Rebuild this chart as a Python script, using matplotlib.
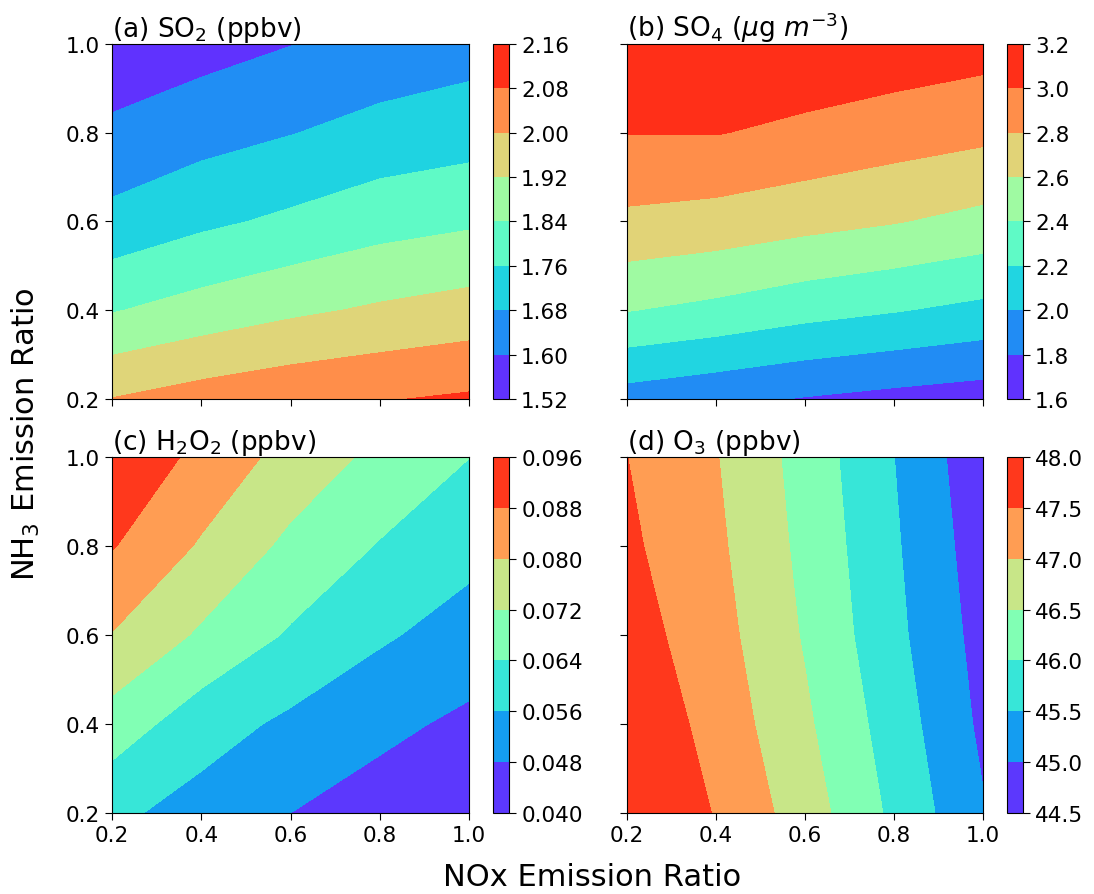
import numpy as np
import matplotlib
matplotlib.use('Agg')
import matplotlib.pyplot as plt

# --- grid (emission ratios) ---
nox = [0.2, 0.4, 0.6, 0.8, 1.0]
nh3 = [0.2, 0.4, 0.6, 0.8, 1.0]

# rows: NH3 = 0.2 ... 1.0, columns: NOx = 0.2 ... 1.0
so2 = [
    [2.002, 2.035, 2.059, 2.075, 2.091],
    [1.835, 1.872, 1.905, 1.931, 1.952],
    [1.703, 1.744, 1.775, 1.808, 1.828],
    [1.618, 1.650, 1.677, 1.708, 1.725],
    [1.538, 1.570, 1.598, 1.624, 1.647],
]
so4 = [
    [1.911, 1.848, 1.788, 1.740, 1.700],
    [2.407, 2.347, 2.269, 2.211, 2.148],
    [2.758, 2.723, 2.663, 2.610, 2.540],
    [3.004, 3.007, 2.958, 2.898, 2.848],
    [3.160, 3.150, 3.140, 3.120, 3.080],
]
h2o2 = [
    [0.0577, 0.0529, 0.0480, 0.0445, 0.0414],
    [0.0684, 0.0595, 0.0544, 0.0499, 0.0464],
    [0.0797, 0.0708, 0.0631, 0.0571, 0.0525],
    [0.0885, 0.0791, 0.0701, 0.0635, 0.0585],
    [0.0950, 0.0858, 0.0771, 0.0700, 0.0641],
]
o3 = [
    [47.980, 47.475, 46.750, 45.893, 45.040],
    [47.920, 47.320, 46.584, 45.761, 44.900],
    [47.735, 47.196, 46.452, 45.630, 44.817],
    [47.594, 47.098, 46.373, 45.566, 44.733],
    [47.505, 47.024, 46.307, 45.504, 44.646],
]

# colour levels as on the colorbars
lev_so2 = [1.52, 1.60, 1.68, 1.76, 1.84, 1.92, 2.00, 2.08, 2.16]
lev_so4 = [1.6, 1.8, 2.0, 2.2, 2.4, 2.6, 2.8, 3.0, 3.2]
lev_h2o2 = [0.040, 0.048, 0.056, 0.064, 0.072, 0.080, 0.088, 0.096]
lev_o3 = [44.5, 45.0, 45.5, 46.0, 46.5, 47.0, 47.5, 48.0]

titles = ['(a) SO$_2$ (ppbv)', '(b) SO$_4$ ($\\mu$g $m^{-3}$)',
          '(c) H$_2$O$_2$ (ppbv)', '(d) O$_3$ (ppbv)']

plt.rcParams['font.family'] = ['DejaVu Sans']
plt.rcParams['xtick.labelsize'] = 15.5
plt.rcParams['ytick.labelsize'] = 15.5
plt.rcParams['xtick.major.size'] = 5
plt.rcParams['ytick.major.size'] = 5

fig = plt.figure(figsize=(10.94, 8.95), dpi=100)

# axes positions [left, bottom, width, height] in figure fractions
pos = [
    [0.1024, 0.5531, 0.3263, 0.3966],
    [0.5729, 0.5531, 0.3257, 0.3966],
    [0.1024, 0.0905, 0.3263, 0.3978],
    [0.5729, 0.0905, 0.3257, 0.3978],
]
cpos = [
    [0.4504, 0.5531, 0.0152, 0.3966],
    [0.9202, 0.5531, 0.0152, 0.3966],
    [0.4504, 0.0905, 0.0152, 0.3978],
    [0.9202, 0.0905, 0.0152, 0.3978],
]

X, Y = np.meshgrid(nox, nh3)
data = [so2, so4, h2o2, o3]
levels = [lev_so2, lev_so4, lev_h2o2, lev_o3]

for i in range(4):
    ax = fig.add_axes(pos[i])
    cs = ax.contourf(X, Y, np.array(data[i]), levels=levels[i], cmap='rainbow')
    ax.set_xlim(0.2, 1.0)
    ax.set_ylim(0.2, 1.0)
    ax.set_xticks([0.2, 0.4, 0.6, 0.8, 1.0])
    ax.set_yticks([0.2, 0.4, 0.6, 0.8, 1.0])
    ax.set_title(titles[i], loc='left', fontsize=19)
    if i < 2:
        ax.set_xticklabels([])
    if i % 2 == 1:
        ax.set_yticklabels([])
    cax = fig.add_axes(cpos[i])
    cb = fig.colorbar(cs, cax=cax, ticks=levels[i])

fig.text(0.024, 0.515, 'NH$_3$ Emission Ratio', rotation=90,
         ha='center', va='center', fontsize=22)
fig.text(0.541, 0.019, 'NOx Emission Ratio', ha='center', va='center', fontsize=22)

fig.savefig('out.png', dpi=100)
